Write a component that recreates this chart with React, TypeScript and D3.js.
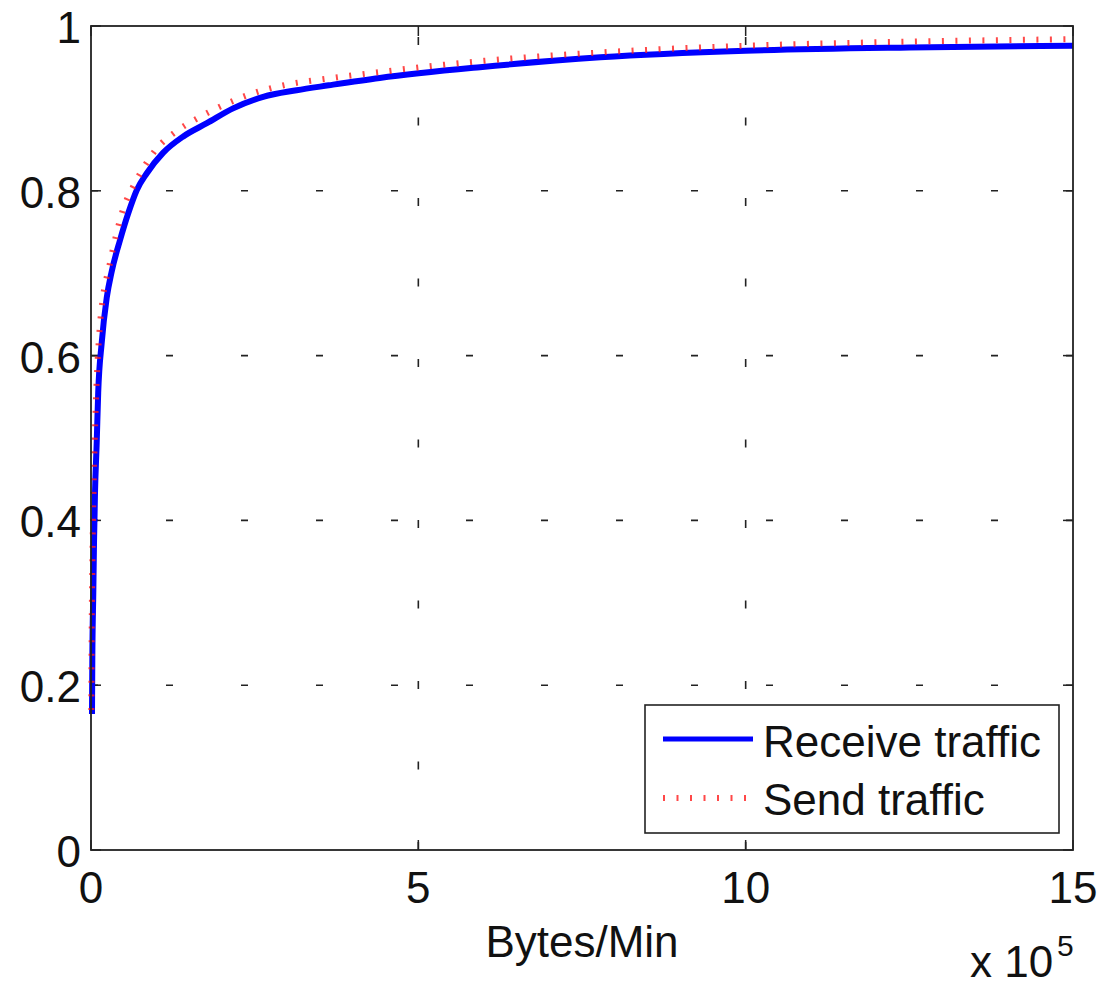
import React from 'react';
import * as d3 from 'd3';

// CDF of traffic per minute, x in units of 1e5 bytes/min
const receiveX = [0.015, 0.02, 0.035, 0.046, 0.061, 0.087, 0.11, 0.163, 0.24, 0.316, 0.443, 0.57, 0.7, 0.85, 1.1, 1.41, 1.77, 2.17, 2.63, 3.14, 3.63, 4.41, 5.94, 7.78, 10, 12.5, 15];
const receiveY = [0.165, 0.23, 0.312, 0.373, 0.433, 0.494, 0.555, 0.615, 0.67, 0.702, 0.74, 0.773, 0.801, 0.821, 0.846, 0.866, 0.882, 0.9, 0.914, 0.922, 0.928, 0.937, 0.95, 0.962, 0.97, 0.974, 0.976];

const sendX = [0.005, 0.01, 0.02, 0.03, 0.045, 0.065, 0.09, 0.13, 0.19, 0.27, 0.38, 0.5, 0.63, 0.78, 1.0, 1.3, 1.65, 2.05, 2.5, 3.0, 3.6, 4.4, 5.9, 7.8, 10, 12.5, 15];
const sendY = [0.17, 0.26, 0.34, 0.4, 0.46, 0.52, 0.575, 0.63, 0.675, 0.705, 0.745, 0.78, 0.803, 0.825, 0.851, 0.872, 0.889, 0.905, 0.919, 0.929, 0.936, 0.944, 0.957, 0.968, 0.976, 0.981, 0.984];

const xTicks = [0, 5, 10, 15];
const yTicks = [0, 0.2, 0.4, 0.6, 0.8, 1];
const seriesNames = ['Receive traffic', 'Send traffic'];

const W = 1102;
const H = 985;
const left = 91, right = 1073, top = 26, bottom = 850;
const font = '"Liberation Sans", Arial, Helvetica, sans-serif';

const App = () => {
  const x = d3.scaleLinear().domain([0, 15]).range([left, right]);
  const y = d3.scaleLinear().domain([0, 1]).range([bottom, top]);

  const line = d3
    .line<[number, number]>()
    .x(d => x(d[0]))
    .y(d => y(d[1]))
    .curve(d3.curveMonotoneX);

  const receive = receiveX.map((v, i) => [v, receiveY[i]] as [number, number]);
  const send = sendX.map((v, i) => [v, sendY[i]] as [number, number]);
  const fmt = (v: number) => (v === 0 || v === 1 ? String(v) : v.toFixed(1));

  return (
    <svg
      width={W}
      height={H}
      style={{ position: 'absolute', left: 0, top: 0, background: '#fff' }}
      fontFamily={font}
    >
      <rect x={0} y={0} width={W} height={H} fill="#fff" />

      {/* grid */}
      {yTicks.slice(1, -1).map(t => (
        <line key={'gy' + t} x1={left} x2={right} y1={y(t)} y2={y(t)}
          stroke="#222" strokeWidth={1.6} strokeDasharray="7 68" />
      ))}
      {xTicks.slice(1, -1).map(t => (
        <line key={'gx' + t} x1={x(t)} x2={x(t)} y1={bottom} y2={top}
          stroke="#222" strokeWidth={1.6} strokeDasharray="8 72.5" />
      ))}

      {/* ticks */}
      {yTicks.map(t => (
        <g key={'ty' + t}>
          <line x1={left} x2={left + 10} y1={y(t)} y2={y(t)} stroke="#222" strokeWidth={1.5} />
          <line x1={right} x2={right - 10} y1={y(t)} y2={y(t)} stroke="#222" strokeWidth={1.5} />
          <text x={81} y={y(t) + 17} textAnchor="end" fontSize={44} fill="#111">{fmt(t)}</text>
        </g>
      ))}
      {xTicks.map(t => (
        <g key={'tx' + t}>
          <line x1={x(t)} x2={x(t)} y1={bottom} y2={bottom - 10} stroke="#222" strokeWidth={1.5} />
          <line x1={x(t)} x2={x(t)} y1={top} y2={top + 10} stroke="#222" strokeWidth={1.5} />
          <text x={x(t)} y={903} textAnchor="middle" fontSize={44} fill="#111">{t}</text>
        </g>
      ))}

      {/* series */}
      <path d={line(receive) ?? ''} fill="none" stroke="#0000ff" strokeWidth={6} strokeLinejoin="round" />
      <path d={line(send) ?? ''} fill="none" stroke="#ff1a1a" strokeOpacity={0.8}
        strokeWidth={6} strokeDasharray="2 11.5" />

      {/* box */}
      <rect x={left} y={top} width={right - left} height={bottom - top} fill="none" stroke="#222" strokeWidth={1.8} />

      {/* labels */}
      <text x={(left + right) / 2} y={957} textAnchor="middle" fontSize={44} fill="#111">Bytes/Min</text>
      <text x={970} y={977} fontSize={44} fill="#111">x 10</text>
      <text x={1057} y={956} fontSize={30} fill="#111">5</text>

      {/* legend */}
      <g>
        <rect x={645} y={705} width={414} height={128} fill="#fff" stroke="#222" strokeWidth={1.6} />
        <line x1={663} x2={753} y1={739} y2={739} stroke="#0000ff" strokeWidth={5} />
        <text x={763} y={757} fontSize={44} fill="#111">{seriesNames[0]}</text>
        <line x1={663} x2={748} y1={798} y2={798} stroke="#ff1a1a" strokeOpacity={0.8}
          strokeWidth={6} strokeDasharray="2 11.5" />
        <text x={763} y={815} fontSize={44} fill="#111">{seriesNames[1]}</text>
      </g>
    </svg>
  );
};

export default App;
